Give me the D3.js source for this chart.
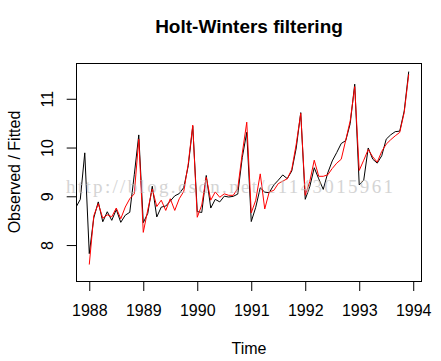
<!DOCTYPE html>
<html><head><meta charset="utf-8">
<script src="https://cdn.jsdelivr.net/npm/d3@7"></script>
<style>body{margin:0;background:#fff}</style>
</head><body>
<svg id="chart" width="441" height="361"></svg>
<script>
// ---- data (log of monthly souvenir sales) ----
const observedStart = 1987; // January 1987, monthly
const observed = [
  7.418, 7.782, 7.952, 8.174, 8.230, 8.220, 8.378, 8.179, 8.522, 8.768, 8.936, 9.891,
  7.824, 8.556, 8.885, 8.478, 8.683, 8.507, 8.729, 8.466, 8.612, 8.672, 9.441, 10.259,
  8.459, 8.649, 9.206, 8.576, 8.778, 8.800, 8.902, 9.009, 9.056, 9.179, 9.626, 10.436,
  8.686, 8.668, 9.427, 8.759, 8.937, 8.885, 9.002, 8.985, 8.999, 9.045, 9.793, 10.313,
  8.482, 8.775, 9.174, 9.085, 9.074, 9.231, 9.330, 9.438, 9.362, 9.518, 9.991, 10.716,
  8.938, 9.195, 9.586, 9.358, 9.141, 9.479, 9.725, 9.898, 10.083, 10.142, 10.492, 11.299,
  9.234, 9.330, 9.991, 9.762, 9.680, 9.831, 10.172, 10.261, 10.326, 10.336, 10.750, 11.558
];
const fittedStart = 1988; // January 1988, monthly
const fitted = [
  7.60, 8.60, 8.85, 8.55, 8.62, 8.58, 8.76, 8.54, 8.78, 8.95, 9.05, 10.17,
  8.26, 8.72, 9.15, 8.79, 8.92, 8.71, 8.95, 8.71, 8.95, 9.10, 9.67, 10.46,
  8.57, 8.82, 9.39, 8.92, 9.09, 8.98, 9.05, 9.02, 9.02, 9.16, 9.88, 10.52,
  8.66, 8.92, 9.46, 8.74, 9.09, 9.12, 9.26, 9.31, 9.36, 9.55, 10.07, 10.70,
  9.02, 9.30, 9.74, 9.41, 9.41, 9.44, 9.57, 9.68, 9.76, 10.15, 10.55, 11.25,
  9.53, 9.74, 9.96, 9.81, 9.70, 9.92, 10.07, 10.16, 10.24, 10.31, 10.72, 11.50
];
const xTicks = [1988, 1989, 1990, 1991, 1992, 1993, 1994];
const yTicks = [8, 9, 10, 11];
const titleText = "Holt-Winters filtering";
const xLabel = "Time";
const yLabel = "Observed / Fitted";
const watermark = "http://blog.csdn.net/c1143015961";

// ---- layout ----
const svg = d3.select("#chart");
svg.append("rect").attr("width", 441).attr("height", 361).attr("fill", "#fff");
const box = {left: 76.5, right: 421.5, top: 63.5, bottom: 281.5};
const font = "'Liberation Sans', Arial, Helvetica, sans-serif";

const tMin = fittedStart, tMax = fittedStart + (fitted.length - 1) / 12;
const xPad = 0.04 * (tMax - tMin);
const x = d3.scaleLinear().domain([tMin - xPad, tMax + xPad]).range([box.left, box.right]);
const [vMin, vMax] = d3.extent(observed.concat(fitted));
const yPad = 0.04 * (vMax - vMin);
const y = d3.scaleLinear().domain([vMin - yPad, vMax + yPad]).range([box.bottom, box.top]);

svg.append("defs").append("clipPath").attr("id", "plotclip")
  .append("rect").attr("x", box.left).attr("y", box.top)
  .attr("width", box.right - box.left).attr("height", box.bottom - box.top);

const lineObs = d3.line().x((d, i) => x(observedStart + i / 12)).y(d => y(d));
const lineFit = d3.line().x((d, i) => x(fittedStart + i / 12)).y(d => y(d));

const plot = svg.append("g").attr("clip-path", "url(#plotclip)");
plot.append("path").datum(observed).attr("d", lineObs)
  .attr("fill", "none").attr("stroke", "#000").attr("stroke-width", 1);
plot.append("path").datum(fitted).attr("d", lineFit)
  .attr("fill", "none").attr("stroke", "#ff0000").attr("stroke-width", 1);

// watermark
svg.append("text").attr("x", 66).attr("y", 193)
  .attr("font-family", "'Liberation Serif', 'DejaVu Serif', serif").attr("font-size", 19)
  .attr("textLength", 327).attr("lengthAdjust", "spacing")
  .attr("fill", "#b8b8b8").attr("opacity", 0.6).text(watermark);

// box
svg.append("rect").attr("x", box.left).attr("y", box.top)
  .attr("width", box.right - box.left).attr("height", box.bottom - box.top)
  .attr("fill", "none").attr("stroke", "#000").attr("stroke-width", 1);

// x axis
const gx = svg.append("g").attr("transform", `translate(0,${box.bottom})`)
  .call(d3.axisBottom(x).tickValues(xTicks).tickSize(9.5).tickFormat(d3.format("d")));
gx.select(".domain").remove();
gx.selectAll(".tick line").attr("stroke", "#000");
gx.selectAll(".tick text").attr("y", 34.5).attr("dy", 0)
  .attr("font-family", font).attr("font-size", 16).attr("fill", "#000");

// y axis
const gy = svg.append("g").attr("transform", `translate(${box.left},0)`)
  .call(d3.axisLeft(y).tickValues(yTicks).tickSize(9.8).tickFormat(d3.format("d")));
gy.select(".domain").remove();
gy.selectAll(".tick line").attr("stroke", "#000");
gy.selectAll(".tick text").attr("transform", "rotate(-90)")
  .attr("x", 0).attr("y", -23.2).attr("dy", 0).attr("text-anchor", "middle")
  .attr("font-family", font).attr("font-size", 16).attr("fill", "#000");

// titles
svg.append("text").attr("x", 249).attr("y", 32.5).attr("text-anchor", "middle")
  .attr("font-family", font).attr("font-size", 19).attr("font-weight", "bold").text(titleText);
svg.append("text").attr("x", 249).attr("y", 354).attr("text-anchor", "middle")
  .attr("font-family", font).attr("font-size", 16).text(xLabel);
svg.append("text").attr("transform", "translate(20,172) rotate(-90)").attr("text-anchor", "middle")
  .attr("font-family", font).attr("font-size", 16).text(yLabel);
</script>
</body></html>
